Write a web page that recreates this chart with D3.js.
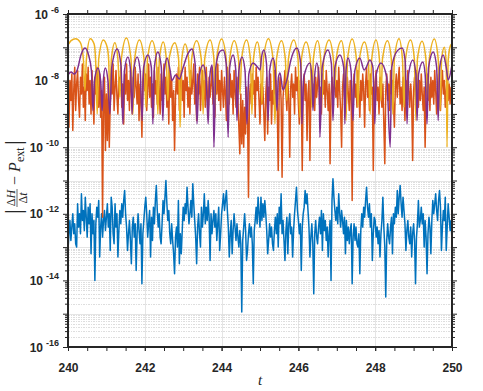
<!DOCTYPE html>
<html>
<head>
<meta charset="utf-8">
<script src="https://cdnjs.cloudflare.com/ajax/libs/d3/7.8.5/d3.min.js"></script>
<style>
  body { margin: 0; background: #fff; }
  svg { display: block; }
  .grid line { shape-rendering: crispEdges; }
  .grid path { display: none; }
  .ax path { display: none; }
  .ax line { stroke: #262626; }
</style>
</head>
<body>
<div id="chart"></div>
<script>
// ---- data (log10 of |dH/dt - P_ext|) ----
const tStart = 240, dt = 0.025;           // sampling of the blue / orange traces
const xMajor = [240, 242, 244, 246, 248, 250];
const xMinor = d3.range(240, 250.01, 0.5);
const yDecades = [-16, -15, -14, -13, -12, -11, -10, -9, -8, -7, -6];
const yLabelled = [-16, -14, -12, -10, -8, -6];

const blueLog = [
  -13.1, -12.6, -12.2, -12.8, -12.4, -12.0, -12.6, -12.3, -12.9, -13.0,
  -11.7, -12.4, -12.0, -12.6, -11.4, -12.2, -11.9, -12.5, -11.5, -12.1,
  -12.7, -11.8, -12.3, -11.7, -13.2, -12.0, -12.6, -12.2, -14.0, -12.3,
  -11.8, -12.1, -11.6, -13.3, -12.4, -12.0, -12.7, -12.2, -11.9, -12.5,
  -12.1, -11.7, -12.4, -12.0, -13.1, -11.5, -11.8, -12.6, -12.9, -11.7,
  -12.4, -12.0, -13.3, -12.5, -11.9, -12.3, -11.7, -12.1, -11.6, -11.3,
  -12.0, -12.4, -13.1, -12.6, -12.2, -12.8, -13.5, -12.4, -12.1, -12.7,
  -12.3, -13.7, -12.6, -12.0, -12.5, -12.9, -12.3, -14.1, -12.6, -12.2,
  -11.8, -11.5, -12.0, -12.7, -12.3, -11.9, -13.3, -12.1, -12.8, -11.8,
  -12.3, -11.6, -11.15, -11.9, -12.4, -12.0, -12.7, -12.9, -12.3, -11.6,
  -12.0, -11.5, -11.0, -11.7, -12.2, -11.9, -12.6, -12.9, -12.3, -12.8,
  -13.2, -13.8, -12.7, -12.4, -13.0, -11.6, -13.5, -12.6, -13.2, -12.5,
  -11.8, -12.2, -11.7, -12.0, -11.2, -11.8, -12.3, -12.0, -11.6, -12.1,
  -11.1, -11.7, -12.2, -12.7, -13.5, -12.4, -12.0, -12.6, -13.0, -11.8,
  -12.4, -12.0, -11.4, -12.3, -11.8, -12.2, -11.6, -12.1, -13.4, -12.0,
  -12.6, -12.2, -11.9, -12.4, -12.0, -12.8, -12.3, -11.8, -13.1, -12.6,
  -12.0, -11.7, -11.4, -11.9, -11.6, -11.3, -11.9, -12.4, -13.3, -12.6,
  -12.2, -13.2, -12.5, -12.0, -12.4, -12.8, -12.3, -12.7, -13.0, -12.5,
  -12.9, -14.95, -12.8, -12.4, -12.0, -12.5, -13.4, -13.1, -12.6, -12.3,
  -12.7, -12.4, -12.9, -14.1, -12.5, -12.2, -11.8, -12.3, -11.5, -12.0,
  -12.4, -11.5, -12.2, -11.7, -12.1, -11.6, -12.0, -12.5, -13.2, -12.8,
  -12.3, -12.7, -12.4, -12.9, -13.1, -12.5, -12.1, -12.6, -12.0, -13.0,
  -11.8, -12.3, -11.4, -12.6, -12.2, -12.8, -13.4, -12.5, -12.1, -13.2,
  -12.3, -12.0, -12.6, -12.4, -13.3, -12.5, -12.0, -11.6, -11.2, -11.9,
  -12.2, -12.6, -12.3, -13.7, -12.4, -12.0, -11.8, -11.3, -11.7, -11.4,
  -11.9, -12.4, -13.3, -12.7, -12.3, -12.9, -14.4, -12.6, -12.2, -12.7,
  -12.9, -12.4, -12.1, -12.6, -11.9, -13.1, -12.0, -12.5, -12.2, -12.8,
  -12.4, -13.3, -12.6, -12.2, -14.0, -11.6, -10.95, -11.5, -11.9, -12.2,
  -11.8, -12.3, -11.4, -12.0, -12.4, -11.9, -12.2, -12.6, -12.1, -13.2,
  -12.2, -12.8, -12.4, -12.9, -12.5, -12.3, -14.1, -12.7, -12.3, -12.8,
  -12.4, -12.9, -13.0, -12.6, -13.8, -12.5, -12.0, -12.4, -11.8, -12.1,
  -11.6, -11.2, -11.8, -12.1, -11.7, -12.4, -12.0, -13.4, -12.6, -12.1,
  -12.2, -12.7, -12.4, -12.9, -12.5, -13.3, -12.6, -12.2, -11.5, -12.4,
  -13.0, -14.5, -12.8, -12.3, -12.7, -12.9, -12.4, -12.1, -13.2, -12.0,
  -12.3, -11.8, -12.1, -11.3, -12.0, -11.5, -11.15, -11.7, -12.1, -11.5,
  -11.9, -12.3, -13.1, -12.5, -12.2, -12.7, -12.9, -12.4, -13.3, -12.6,
  -12.3, -12.8, -14.1, -12.7, -12.3, -11.6, -12.4, -12.2, -11.8, -12.3,
  -12.0, -13.0, -12.2, -12.7, -13.8, -12.6, -12.1, -12.4, -13.2, -12.2,
  -11.6, -12.0, -11.7, -11.4, -11.9, -12.2, -11.6, -11.3, -11.8, -13.1,
  -12.4, -11.9, -12.2, -11.5, -13.1, -12.4, -11.7, -12.1, -12.5, -12.2,
  -12.8
];

const orangeLog = [
  -8.4, -9.4, -8.0, -8.6, -7.8, -9.5, -8.3, -7.6, -8.9, -8.1,
  -7.7, -8.6, -9.1, -7.9, -8.4, -7.5, -8.8, -8.2, -9.2, -7.8,
  -8.3, -7.6, -8.7, -8.0, -9.0, -7.7, -8.5, -9.3, -7.9, -8.4,
  -7.6, -8.2, -8.8, -7.8, -9.1, -8.3, -12.1, -8.6, -7.9, -10.1,
  -8.4, -9.8, -8.1, -10.0, -8.7, -7.8, -8.4, -7.5, -8.9, -8.2,
  -7.7, -8.5, -9.0, -7.9, -8.3, -7.6, -8.8, -8.1, -9.3, -7.8,
  -8.4, -7.5, -8.6, -8.0, -8.9, -7.7, -8.3, -9.0, -7.9, -8.5,
  -7.6, -8.2, -8.7, -7.8, -9.2, -8.1, -8.6, -9.7, -8.0, -7.6,
  -8.3, -7.8, -8.9, -8.2, -7.5, -8.5, -7.9, -8.8, -8.1, -9.1,
  -7.7, -8.4, -8.0, -8.7, -7.6, -8.3, -9.0, -7.8, -8.6, -8.1,
  -7.5, -8.4, -7.9, -8.8, -8.2, -9.3, -7.7, -8.5, -8.0, -9.2,
  -8.3, -10.1, -8.5, -7.8, -8.4, -7.6, -8.9, -8.1, -7.7, -8.6,
  -8.0, -9.1, -7.6, -8.3, -7.9, -8.8, -8.2, -9.0, -7.7, -8.4,
  -8.0, -7.5, -8.7, -8.1, -9.2, -7.8, -8.4, -7.6, -8.9, -8.2,
  -7.7, -8.6, -8.0, -8.8, -7.6, -8.3, -9.0, -7.9, -8.5, -8.1,
  -7.6, -8.7, -8.2, -9.1, -7.8, -8.4, -7.5, -8.6, -8.0, -8.9,
  -7.7, -8.3, -8.8, -7.9, -8.4, -9.2, -7.6, -8.2, -8.7, -7.8,
  -8.5, -8.0, -9.0, -7.7, -8.3, -8.8, -7.9, -8.6, -9.4, -10.2,
  -8.4, -9.9, -8.6, -10.0, -8.8, -9.6, -8.2, -8.9, -11.5, -8.5,
  -8.1, -8.7, -7.8, -8.4, -8.0, -9.1, -7.6, -8.3, -7.9, -8.6,
  -9.3, -8.1, -8.7, -8.2, -9.0, -9.8, -8.4, -7.9, -9.6, -8.2,
  -8.6, -7.8, -9.3, -8.3, -8.7, -7.7, -8.4, -8.0, -8.8, -10.7,
  -8.3, -7.9, -8.6, -10.9, -8.5, -8.1, -7.7, -8.4, -8.9, -8.0,
  -8.6, -10.3, -8.2, -7.8, -8.5, -8.1, -9.0, -7.6, -8.3, -7.9,
  -8.7, -9.3, -8.0, -8.5, -10.7, -8.2, -7.8, -8.6, -8.1, -9.8,
  -8.4, -8.0, -10.4, -8.3, -7.7, -8.6, -8.1, -8.9, -7.9, -8.5,
  -8.1, -7.6, -8.7, -8.2, -9.0, -7.8, -8.4, -8.0, -8.8, -7.7,
  -8.3, -8.9, -8.1, -10.5, -8.4, -7.9, -8.6, -8.2, -7.7, -8.5,
  -8.0, -8.8, -7.6, -8.3, -8.9, -10.0, -8.2, -7.8, -8.5, -8.1,
  -8.7, -7.9, -8.4, -8.9, -8.0, -8.6, -11.6, -8.3, -7.8, -8.5,
  -8.1, -8.8, -7.7, -8.4, -9.1, -8.0, -8.6, -7.8, -8.3, -9.4,
  -8.1, -7.6, -8.5, -8.0, -8.9, -7.8, -8.4, -8.2, -10.7, -8.5,
  -8.0, -7.7, -8.6, -8.2, -9.0, -7.9, -8.4, -8.8, -8.1, -9.3,
  -10.5, -8.3, -7.8, -8.6, -8.1, -8.9, -7.7, -8.4, -8.0, -8.7,
  -9.4, -8.2, -7.8, -8.5, -8.0, -7.6, -8.7, -8.2, -8.9, -7.9,
  -8.4, -9.2, -8.0, -8.6, -7.7, -8.3, -8.8, -8.1, -8.6, -10.4,
  -8.3, -7.9, -8.5, -7.7, -8.2, -8.8, -8.0, -8.6, -7.8, -8.4,
  -8.9, -8.2, -10.0, -8.4, -7.8, -8.6, -8.1, -8.9, -7.9, -8.5,
  -8.0, -8.7, -7.7, -8.3, -9.0, -8.1, -7.8, -8.5, -8.9, -8.2,
  -7.7, -8.4, -8.0, -8.8, -8.3, -7.9, -8.6, -8.1, -8.7, -8.2,
  -8.4
];

// [t, log10 value]
const yellowPts = [
  [240.00,-6.93],[240.08,-6.80],[240.20,-6.74],[240.32,-6.85],[240.40,-7.35],[240.44,-8.3],
  [240.48,-7.35],[240.58,-6.74],[240.68,-6.9],[240.72,-7.4],[240.76,-9.0],
  [240.80,-7.35],[240.92,-6.78],[241.02,-7.0],[241.06,-7.4],[241.09,-8.7],
  [241.13,-7.35],[241.22,-6.86],[241.30,-7.35],[241.35,-8.5],
  [241.39,-7.35],[241.52,-6.72],[241.64,-7.35],[241.69,-9.0],
  [241.73,-7.4],[241.86,-6.78],[241.98,-7.35],[242.03,-8.8],
  [242.07,-7.35],[242.19,-6.80],[242.30,-7.35],[242.34,-9.0],
  [242.38,-7.35],[242.48,-6.84],[242.56,-7.35],[242.60,-8.6],
  [242.64,-7.3],[242.78,-6.86],[242.88,-7.35],[242.92,-9.4],
  [242.96,-7.4],[243.05,-6.90],[243.14,-7.35],[243.18,-8.2],
  [243.22,-7.35],[243.35,-6.80],[243.47,-7.35],[243.52,-9.0],
  [243.56,-7.35],[243.70,-6.78],[243.80,-7.35],[243.83,-8.8],
  [243.87,-7.35],[244.00,-6.75],[244.12,-7.35],[244.17,-9.2],
  [244.21,-7.35],[244.33,-6.80],[244.44,-7.35],[244.48,-8.4],
  [244.52,-7.35],[244.65,-6.78],[244.75,-7.35],[244.79,-9.0],
  [244.83,-7.35],[244.93,-6.84],[245.01,-7.35],[245.05,-8.7],
  [245.09,-7.35],[245.22,-6.74],[245.34,-7.35],[245.39,-9.3],
  [245.43,-7.35],[245.56,-6.80],[245.66,-7.35],[245.70,-8.6],
  [245.74,-7.35],[245.88,-6.78],[245.99,-7.35],[246.04,-9.1],
  [246.08,-7.35],[246.20,-6.84],[246.31,-7.35],[246.35,-8.8],
  [246.39,-7.35],[246.50,-6.80],[246.58,-7.35],[246.62,-8.5],
  [246.66,-7.35],[246.80,-6.78],[246.91,-7.35],[246.95,-8.2],
  [246.99,-7.3],[247.12,-6.80],[247.20,-7.35],[247.24,-9.2],
  [247.28,-7.35],[247.40,-6.75],[247.51,-7.35],[247.55,-8.8],
  [247.59,-7.35],[247.72,-6.84],[247.82,-7.35],[247.87,-9.0],
  [247.91,-7.35],[248.02,-6.78],[248.11,-7.35],[248.15,-8.6],
  [248.19,-7.35],[248.32,-6.80],[248.42,-7.35],[248.46,-9.0],
  [248.50,-7.35],[248.62,-6.74],[248.71,-7.35],[248.75,-8.8],
  [248.79,-7.35],[248.92,-6.78],[249.02,-7.35],[249.06,-9.2],
  [249.10,-7.35],[249.22,-6.82],[249.32,-7.35],[249.37,-8.6],
  [249.41,-7.35],[249.54,-6.75],[249.64,-7.35],[249.69,-8.9],
  [249.73,-7.35],[249.80,-7.0],[249.85,-7.5],[249.87,-10.0],
  [249.90,-7.4],[249.96,-6.95],[250.00,-6.90]
];

const purplePts = [
  [240.00,-7.83],[240.08,-7.74],[240.16,-7.80],[240.24,-7.68],[240.34,-7.22],[240.44,-7.02],[240.54,-7.25],[240.61,-7.7],[240.65,-8.9],
  [240.69,-8.0],[240.78,-7.62],[240.85,-8.0],[240.89,-8.9],
  [240.92,-8.0],[240.97,-7.62],[241.04,-8.0],[241.09,-9.0],
  [241.14,-7.6],[241.28,-7.05],[241.38,-7.55],[241.43,-9.3],
  [241.47,-7.7],[241.56,-7.29],[241.63,-7.7],[241.67,-9.0],
  [241.71,-7.7],[241.80,-7.29],[241.88,-7.7],[241.93,-9.2],
  [241.97,-7.6],[242.08,-7.23],[242.17,-7.6],[242.21,-9.3],
  [242.25,-7.6],[242.34,-7.14],[242.43,-7.6],[242.47,-9.2],
  [242.51,-7.7],[242.58,-7.32],[242.66,-7.7],[242.71,-8.0],
  [242.80,-7.83],[242.90,-7.95],[243.00,-7.6],[243.12,-7.2],[243.23,-7.05],[243.31,-7.5],[243.36,-9.3],
  [243.41,-7.9],[243.52,-7.53],[243.60,-8.0],[243.65,-9.3],
  [243.69,-7.9],[243.75,-7.53],[243.78,-8.2],[243.80,-10.0],
  [243.85,-7.6],[243.96,-7.12],[244.04,-7.08],[244.12,-7.5],[244.17,-9.7],
  [244.21,-7.6],[244.30,-7.23],[244.37,-7.7],[244.40,-9.2],
  [244.45,-7.7],[244.53,-7.29],[244.61,-7.7],[244.66,-9.3],
  [244.71,-7.8],[244.82,-7.47],[244.94,-7.6],[245.00,-7.68],
  [245.04,-7.3],[245.10,-7.08],[245.17,-7.5],[245.21,-9.2],
  [245.25,-7.7],[245.34,-7.32],[245.40,-7.7],[245.44,-8.9],
  [245.48,-7.9],[245.52,-7.77],[245.60,-8.28],[245.70,-7.98],[245.80,-7.4],[245.96,-7.02],[246.05,-7.4],[246.07,-7.8],[246.09,-9.3],
  [246.14,-7.9],[246.30,-7.47],[246.35,-7.9],[246.38,-8.9],
  [246.42,-7.9],[246.48,-7.47],[246.54,-8.0],[246.56,-9.7],
  [246.62,-7.6],[246.77,-7.08],[246.86,-7.5],[246.90,-9.2],
  [246.95,-7.6],[247.08,-7.23],[247.18,-7.6],[247.21,-9.3],
  [247.24,-7.7],[247.29,-7.32],[247.37,-7.7],[247.42,-9.2],
  [247.47,-7.7],[247.60,-7.32],[247.71,-7.68],[247.76,-7.62],[247.86,-7.38],[247.94,-7.6],[247.99,-9.3],
  [248.03,-7.8],[248.15,-7.47],[248.30,-7.9],[248.39,-10.0],
  [248.43,-7.6],[248.58,-7.1],[248.70,-7.02],[248.78,-7.4],[248.83,-9.3],
  [248.87,-7.8],[248.98,-7.38],[249.06,-7.8],[249.09,-9.2],
  [249.13,-7.8],[249.24,-7.44],[249.30,-7.8],[249.35,-9.3],
  [249.39,-7.6],[249.51,-7.14],[249.60,-7.6],[249.64,-9.2],
  [249.68,-7.6],[249.77,-7.23],[249.85,-7.6],[249.90,-7.98],[250.00,-7.53]
];

// ---- layout ----
const width = 483, height = 391;
const margin = {top: 14, right: 31, bottom: 44, left: 68};
const w = width - margin.left - margin.right,
      h = height - margin.top - margin.bottom;

const x = d3.scaleLinear().domain([240, 250]).range([0, w]);
const y = d3.scaleLog().domain([1e-16, 1e-6]).range([h, 0]);

const pow = e => Math.pow(10, e);
const yMajorVals = yDecades.map(pow);
const yMinorVals = [];
yDecades.slice(0, -1).forEach(e => {
    for (let k = 2; k <= 9; k++) yMinorVals.push(k * pow(e));
});

const svg = d3.select("#chart").append("svg")
    .attr("width", width)
    .attr("height", height);

const g = svg.append("g")
    .attr("transform", `translate(${margin.left},${margin.top})`);

svg.append("defs").append("clipPath").attr("id", "clip")
    .append("rect").attr("width", w).attr("height", h);

// grid
g.append("g").attr("class", "grid")
    .call(d3.axisLeft(y).tickValues(yMinorVals).tickSize(-w).tickFormat(""))
    .selectAll("line").attr("stroke", "#c8c8c8").attr("stroke-width", 0.6)
    .attr("stroke-dasharray", "1.5,1");
g.append("g").attr("class", "grid")
    .call(d3.axisLeft(y).tickValues(yMajorVals).tickSize(-w).tickFormat(""))
    .selectAll("line").attr("stroke", "#dadada").attr("stroke-width", 0.7);
g.append("g").attr("class", "grid")
    .attr("transform", `translate(0,${h})`)
    .call(d3.axisBottom(x).tickValues(xMajor).tickSize(-h).tickFormat(""))
    .selectAll("line").attr("stroke", "#dadada").attr("stroke-width", 0.7);

// data
const line = d3.line()
    .x(d => x(d[0]))
    .y(d => y(pow(d[1])));

const uniform = arr => arr.map((v, i) => [tStart + i * dt, v]);

const series = [
    {pts: uniform(blueLog), color: "#0072BD", curve: d3.curveLinear},
    {pts: uniform(orangeLog), color: "#D95319", curve: d3.curveLinear},
    {pts: yellowPts, color: "#EDB120", curve: d3.curveMonotoneX},
    {pts: purplePts, color: "#7E2F8E", curve: d3.curveMonotoneX}
];

const plot = g.append("g").attr("clip-path", "url(#clip)");
series.forEach(s => {
    plot.append("path")
        .datum(s.pts)
        .attr("d", line.curve(s.curve))
        .attr("fill", "none")
        .attr("stroke", s.color)
        .attr("stroke-width", 1.5)
        .attr("stroke-linejoin", "round");
});

// axes (ticks outward on all four sides)
const tickFont = "'Liberation Sans', Arial, Helvetica, sans-serif";

g.append("g").attr("class", "ax").attr("transform", `translate(0,${h})`)
    .call(d3.axisBottom(x).tickValues(xMinor).tickSize(4).tickFormat(""));
const bottomLab = g.append("g").attr("class", "ax").attr("transform", `translate(0,${h})`)
    .call(d3.axisBottom(x).tickValues(xMajor).tickSize(4).tickPadding(12).tickFormat(d3.format("d")));
bottomLab.selectAll("text")
    .attr("font-family", tickFont).attr("font-size", 12).attr("font-weight", "bold").attr("fill", "#262626");

g.append("g").attr("class", "ax")
    .call(d3.axisTop(x).tickValues(xMinor).tickSize(4).tickFormat(""));

g.append("g").attr("class", "ax")
    .call(d3.axisLeft(y).tickValues(yMajorVals).tickSize(5).tickFormat(""));
g.append("g").attr("class", "ax")
    .call(d3.axisLeft(y).tickValues(yMinorVals).tickSize(3).tickFormat(""));
g.append("g").attr("class", "ax").attr("transform", `translate(${w},0)`)
    .call(d3.axisRight(y).tickValues(yMajorVals).tickSize(5).tickFormat(""));
g.append("g").attr("class", "ax").attr("transform", `translate(${w},0)`)
    .call(d3.axisRight(y).tickValues(yMinorVals).tickSize(3).tickFormat(""));

// box
g.append("rect")
    .attr("width", w).attr("height", h)
    .attr("fill", "none").attr("stroke", "#262626").attr("stroke-width", 1.1)
    .attr("shape-rendering", "crispEdges");

// y tick labels: 10^n
yLabelled.forEach(e => {
    const t = g.append("text")
        .attr("x", -9)
        .attr("y", y(pow(e)) + 4.5)
        .attr("text-anchor", "end")
        .attr("font-family", tickFont)
        .attr("font-weight", "bold")
        .attr("font-size", 12)
        .attr("fill", "#262626");
    t.append("tspan").text("10");
    t.append("tspan").attr("dx", 3).attr("dy", -6).attr("font-size", 9).text(String(e));
});

// x label
const serif = "'Liberation Serif', 'DejaVu Serif', serif";
svg.append("text")
    .attr("x", margin.left + w / 2)
    .attr("y", 385)
    .attr("text-anchor", "middle")
    .attr("font-family", serif)
    .attr("font-style", "italic")
    .attr("font-size", 15)
    .attr("fill", "#262626")
    .text("t");

// y label: |ΔH/Δt − P_ext|
const yl = svg.append("g")
    .attr("transform", "translate(20,214) rotate(-90)")
    .attr("font-family", serif)
    .attr("fill", "#262626");

yl.append("text").attr("x", 0).attr("y", 1).attr("font-size", 24).text("|");
yl.append("text").attr("x", 16).attr("y", -5).attr("font-size", 12)
    .attr("text-anchor", "middle")
    .html("Δ<tspan font-style='italic'>H</tspan>");
yl.append("line").attr("x1", 7).attr("x2", 25).attr("y1", -3).attr("y2", -3)
    .attr("stroke", "#262626").attr("stroke-width", 0.7);
yl.append("text").attr("x", 16).attr("y", 6.5).attr("font-size", 12)
    .attr("text-anchor", "middle")
    .html("Δ<tspan font-style='italic'>t</tspan>");
yl.append("text").attr("x", 33.5).attr("y", 0).attr("font-size", 16)
    .attr("text-anchor", "middle").text("−");
yl.append("text").attr("x", 42).attr("y", 0).attr("font-size", 16)
    .attr("font-style", "italic").text("P");
yl.append("text").attr("x", 52).attr("y", 4).attr("font-size", 12).text("ext");
yl.append("text").attr("x", 69).attr("y", 1).attr("font-size", 24).text("|");
</script>
</body>
</html>
